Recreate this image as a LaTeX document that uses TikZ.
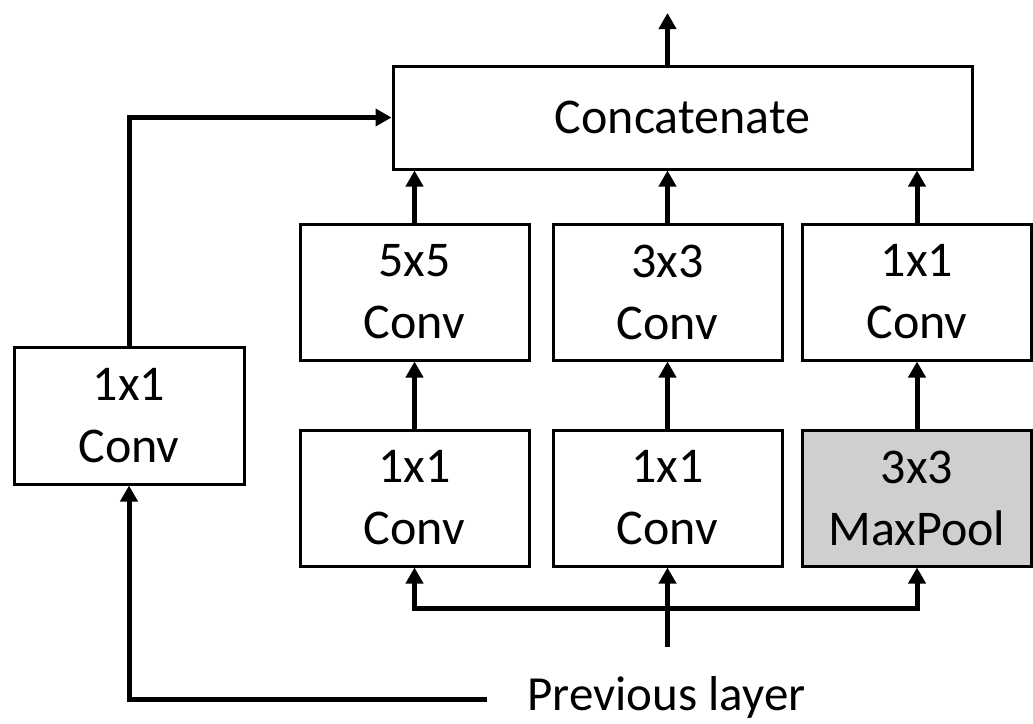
\documentclass[tikz,border=0pt]{standalone}
\usepackage{fontspec}
\setmainfont{Carlito}
\usetikzlibrary{arrows.meta}
\definecolor{poolgray}{RGB}{208,206,206}
\begin{document}
\begin{tikzpicture}[x=1pt,y=-1pt,
  box/.style={draw=black, line width=3pt, inner sep=0pt, align=center,
    font=\fontsize{50}{62}\selectfont},
  cell/.style={box, minimum width=229pt, minimum height=136pt},
  conn/.style={line width=5pt, -{Triangle[length=16pt,width=17pt]}},
  wire/.style={line width=5pt}]
\useasboundingbox (0,0) rectangle (1033,723);
\node[box, minimum width=579pt, minimum height=103pt] (cat) at (682.5,117.5) {Concatenate};
\node[cell] (t1) at (414.5,292) {5x5\\Conv};
\node[cell] (t2) at (667.5,292) {3x3\\Conv};
\node[cell] (t3) at (917,292) {1x1\\Conv};
\node[cell] (b1) at (414.5,498) {1x1\\Conv};
\node[cell] (b2) at (667.5,498) {1x1\\Conv};
\node[cell, fill=poolgray] (b3) at (917,498) {3x3\\MaxPool};
\node[box, minimum width=230pt, minimum height=137pt] (lb) at (129,415.5) {1x1\\Conv};
\node[font=\fontsize{49}{60}\selectfont, inner sep=0pt, anchor=base] (prev) at (666.5,710) {Previous layer};
\coordinate (out) at (667.5,13);
\coordinate (pl) at (487,699);
\coordinate (in) at (667.5,647);
\coordinate (bus) at (667.5,608);
% output
\draw[conn] (cat.north -| t2.north) -- (out);
% top row to concatenate
\draw[conn] (t1.north) -- (t1.north |- cat.south);
\draw[conn] (t2.north) -- (t2.north |- cat.south);
\draw[conn] (t3.north) -- (t3.north |- cat.south);
% bottom row to top row
\draw[conn] (b1.north) -- (t1.south);
\draw[conn] (b2.north) -- (t2.south);
\draw[conn] (b3.north) -- (t3.south);
% left branch
\draw[conn] (lb.north) |- (cat.west);
\draw[conn] (pl) -| (lb.south);
% bus
\draw[conn] (in) -- (b2.south);
\draw[conn] (bus) -| (b1.south);
\draw[conn] (bus) -| (b3.south);
\end{tikzpicture}
\end{document}
